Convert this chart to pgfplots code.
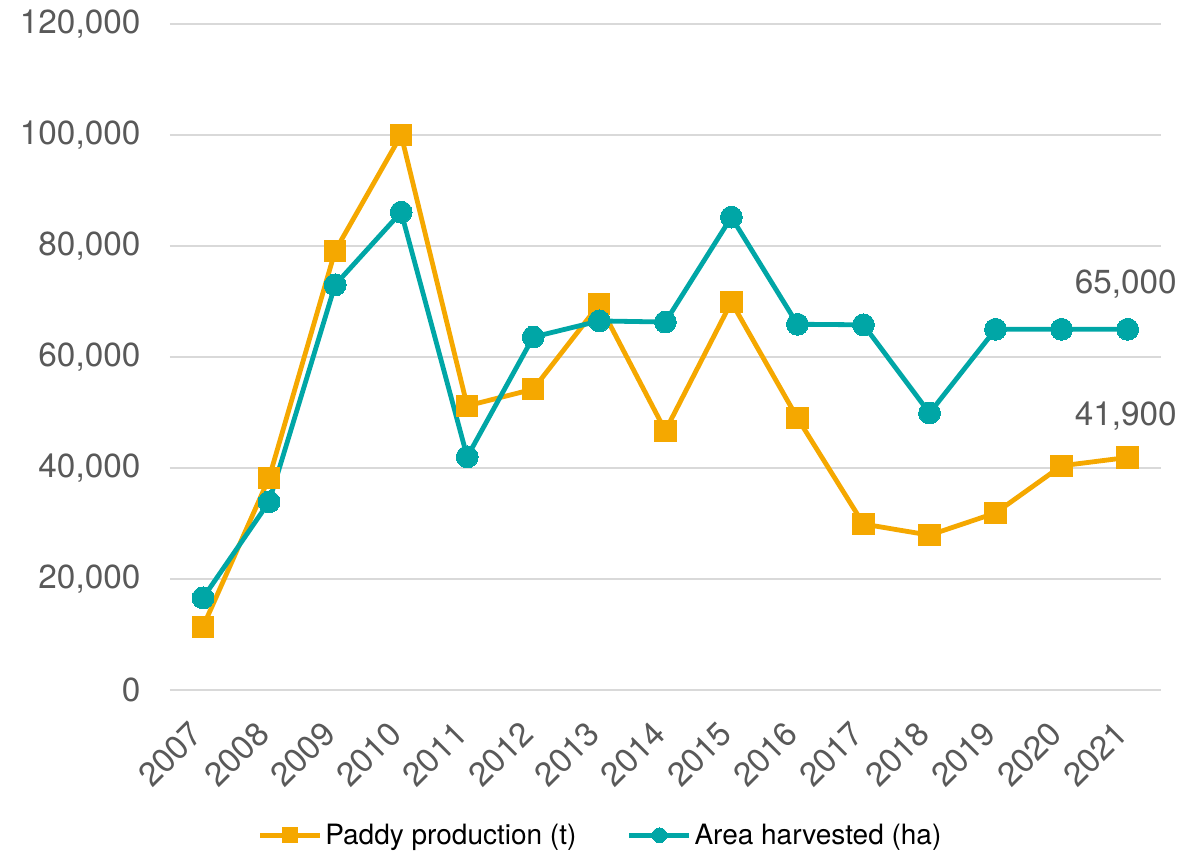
\documentclass[border=0pt]{standalone}
\usepackage{fontspec}
\setmainfont{TeX Gyre Heros}
\usepackage{pgfplots}
\pgfplotsset{compat=1.18}
\definecolor{paddy}{HTML}{F5A800}
\definecolor{area}{HTML}{00A6A6}
\definecolor{txt}{HTML}{595959}
\definecolor{gridc}{HTML}{D9D9D9}
\begin{document}
\begin{tikzpicture}
\path[use as bounding box] (-127.5pt,-123pt) rectangle (760.5pt,517.5pt);
\begin{axis}[
  at={(0,0)}, anchor=south west,
  scale only axis, width=743pt, height=499.5pt,
  xmin=2006.5, xmax=2021.5,
  ymin=0, ymax=120000,
  xtick={2007,2008,2009,2010,2011,2012,2013,2014,2015,2016,2017,2018,2019,2020,2021},
  xticklabels={2007,2008,2009,2010,2011,2012,2013,2014,2015,2016,2017,2018,2019,2020,2021},
  ytick={0,20000,40000,60000,80000,100000,120000},
  yticklabels={0,{20,000},{40,000},{60,000},{80,000},{100,000},{120,000}},
  scaled y ticks=false,
  ymajorgrids, grid style={gridc, line width=1.5pt},
  axis line style={draw=none},
  major tick style={draw=none},
  tick label style={font=\fontsize{25}{30}\selectfont, text=txt},
  yticklabel style={anchor=east, inner sep=0pt, xshift=-22pt},
  xticklabel style={xshift=-11pt, yshift=-22pt, rotate=45, anchor=north east, inner sep=0pt},
  legend style={at={(0.435,-0.218)}, anchor=center, draw=none, fill=none,
    font=\fontsize{21}{25}\selectfont, legend columns=2,
    /tikz/every even column/.append style={column sep=36pt}},
  legend cell align=left,
  legend image code/.code={
    \draw[#1, mark=none] (0pt,0pt) -- (45pt,0pt);
    \draw[#1, mark size=5.5pt, line width=0pt] plot coordinates {(22.5pt,0pt)};
  },
  clip=false,
]
\addplot[color=paddy, line width=3.6pt, mark=square*, mark size=8pt, mark options={line width=0pt}] coordinates {
(2007,11400) (2008,38200) (2009,79100) (2010,100000) (2011,51200)
(2012,54200) (2013,69500) (2014,46700) (2015,69900) (2016,49000)
(2017,29900) (2018,27900) (2019,31900) (2020,40400) (2021,41900)
};
\addlegendentry{Paddy production (t)}
\addplot[color=area, line width=3.6pt, mark=*, mark size=8.2pt, mark options={line width=0pt}] coordinates {
(2007,16600) (2008,33900) (2009,73000) (2010,86100) (2011,42000)
(2012,63600) (2013,66500) (2014,66300) (2015,85200) (2016,65900)
(2017,65800) (2018,49900) (2019,65000) (2020,65000) (2021,65000)
};
\addlegendentry{Area harvested (ha)}
\node[anchor=south east, inner sep=0pt, text=txt, font=\fontsize{25}{30}\selectfont, xshift=37pt, yshift=23pt] at (axis cs:2021,65000) {65,000};
\node[anchor=south east, inner sep=0pt, text=txt, font=\fontsize{25}{30}\selectfont, xshift=37pt, yshift=20pt] at (axis cs:2021,41900) {41,900};
\end{axis}
\end{tikzpicture}
\end{document}
